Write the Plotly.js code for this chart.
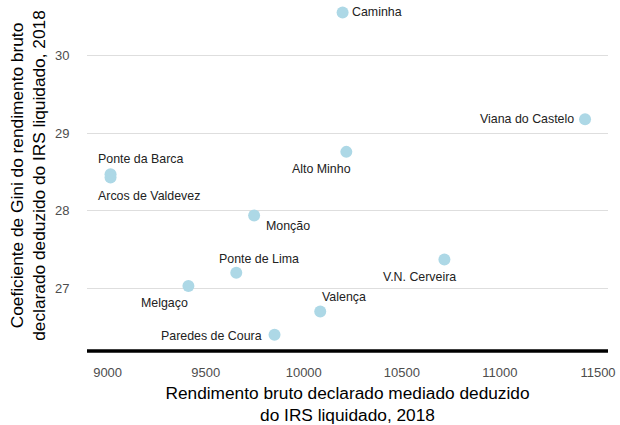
<!DOCTYPE html>
<html>
<head>
<meta charset="utf-8">
<script src="https://cdn.plot.ly/plotly-3.0.1.min.js"></script>
<style>
  body { margin: 0; background: #fff; }
  #chart { width: 620px; height: 425px; }
</style>
</head>
<body>
<div id="chart"></div>
<script>
// Gini vs median income, Alto Minho municipalities, 2018
var concelhos = ['Caminha', 'Viana do Castelo', 'Alto Minho', 'Ponte da Barca',
  'Arcos de Valdevez', 'Monção', 'Ponte de Lima', 'Melgaço', 'Paredes de Coura',
  'Valença', 'V.N. Cerveira'];
var rendimento = [10198, 11434, 10217, 9015, 9015, 9747, 9656, 9412, 9851, 10084, 10717];
var gini = [30.56, 29.18, 28.76, 28.47, 28.43, 27.94, 27.20, 27.03, 26.40, 26.70, 27.37];
var x_ticks = [9000, 9500, 10000, 10500, 11000, 11500];
var y_ticks = [27, 28, 29, 30];

// label offsets in pixels (repel-like placement)
var label_dx = [34, -58, -25, 30, 38, 34, 23, -24, -63, 24, -25];
var label_dy = [0, 0, 17, -15, 19, 11, -14, 17, 1, -14, 17];

var trace = {
  x: rendimento,
  y: gini,
  mode: 'markers',
  type: 'scatter',
  marker: {color: '#add8e6', size: 12},
  hoverinfo: 'text',
  text: concelhos
};

var annotations = concelhos.map(function(nome, i) {
  return {
    x: rendimento[i],
    y: gini[i],
    text: nome,
    showarrow: true,
    arrowcolor: 'rgba(0,0,0,0)',
    ax: label_dx[i],
    ay: label_dy[i],
    font: {family: 'Liberation Sans, Arial, sans-serif', size: 12.4, color: '#222'}
  };
});

var layout = {
  width: 620,
  height: 425,
  margin: {l: 87, r: 12, t: 0, b: 74},
  paper_bgcolor: '#fff',
  plot_bgcolor: '#fff',
  showlegend: false,
  font: {family: 'Liberation Sans, Arial, sans-serif'},
  xaxis: {
    range: [8895, 11551],
    tickvals: x_ticks,
    ticktext: x_ticks.map(String),
    showgrid: false,
    zeroline: false,
    showline: false,
    ticks: 'outside',
    ticklen: 9,
    tickcolor: 'rgba(0,0,0,0)',
    tickfont: {size: 13, color: '#4d4d4d'},
    title: {
      text: 'Rendimento bruto declarado mediado deduzido<br>do IRS liquidado, 2018',
      font: {size: 17.3, color: '#000'},
      standoff: 10
    }
  },
  yaxis: {
    range: [26.19, 30.72],
    tickvals: y_ticks,
    gridcolor: '#dedede',
    gridwidth: 1,
    zeroline: false,
    showline: false,
    ticks: 'outside',
    ticklen: 14,
    tickcolor: 'rgba(0,0,0,0)',
    tickfont: {size: 13, color: '#4d4d4d'},
    title: {
      text: 'Coeficiente de Gini do rendimento bruto<br>declarado deduzido do IRS liquidado, 2018',
      font: {size: 17.3, color: '#000'},
      standoff: 4
    }
  },
  shapes: [{
    type: 'line', xref: 'paper', yref: 'paper',
    x0: 0, x1: 1, y0: 0, y1: 0,
    line: {color: '#000', width: 3.5}
  }],
  annotations: annotations
};

Plotly.newPlot('chart', [trace], layout, {displayModeBar: false, staticPlot: true});
</script>
</body>
</html>
